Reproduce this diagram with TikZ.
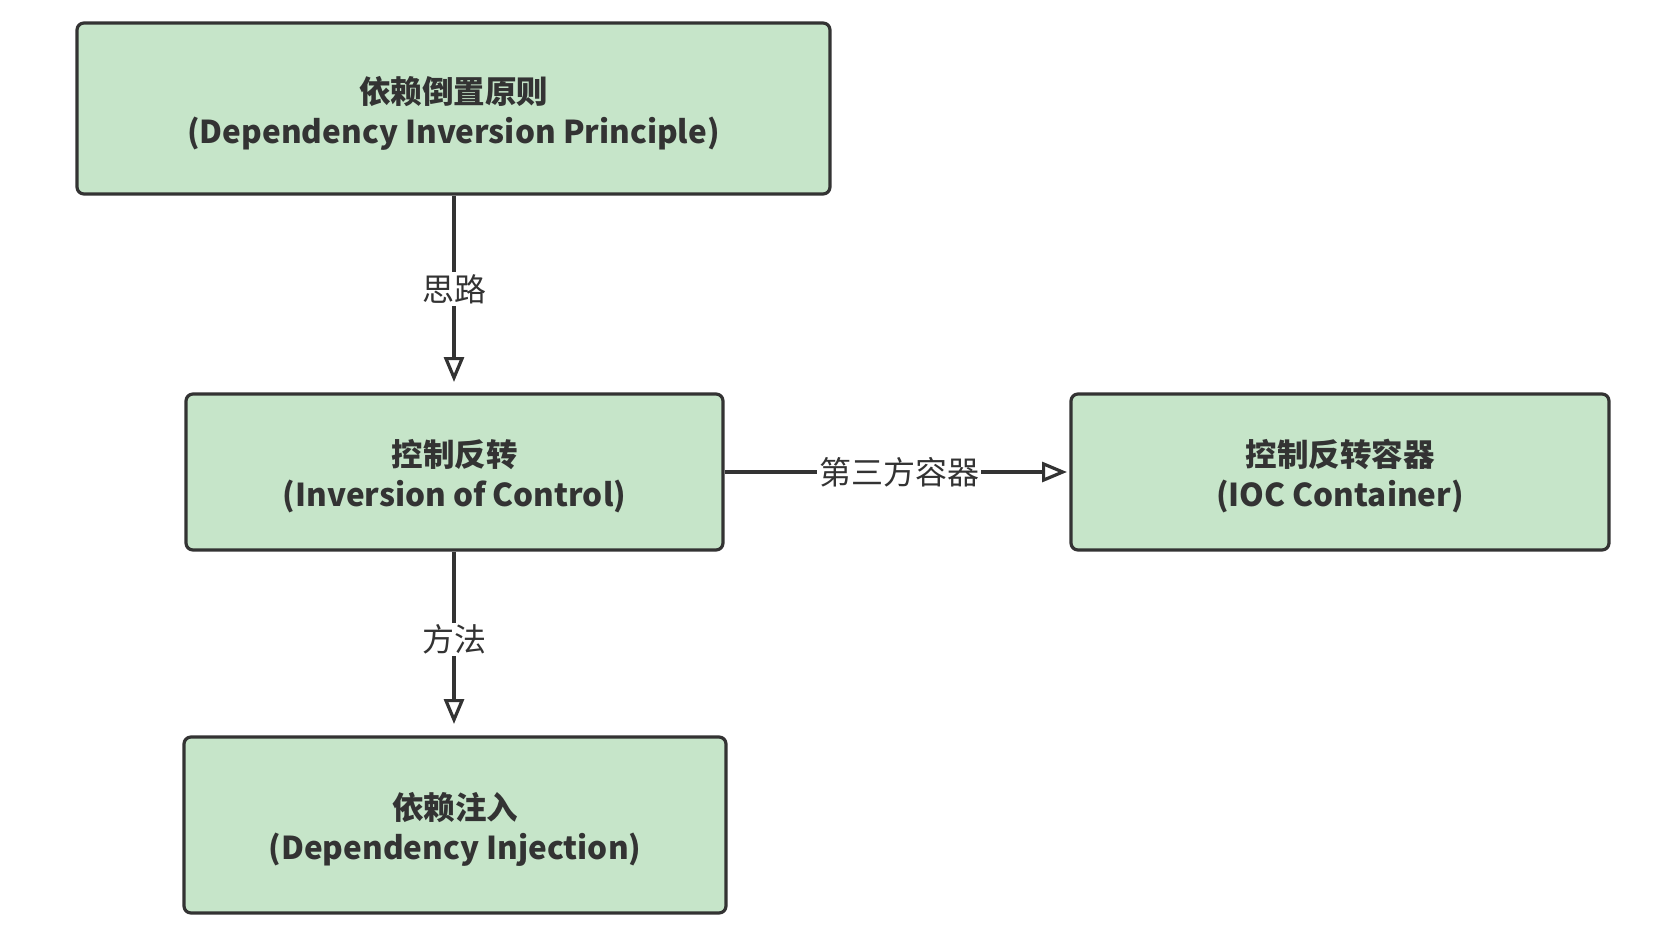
\documentclass[tikz,border=0pt]{standalone}
\usepackage{fontspec}
\setmainfont{Noto Sans CJK SC}
\usetikzlibrary{arrows.meta}
\definecolor{boxfill}{HTML}{C6E5C9}
\definecolor{edge}{HTML}{333333}
\newcommand{\lowr}[1]{\raisebox{-4.5pt}[\height][\depth]{#1}}
\tikzset{
  box/.style={draw=edge, fill=boxfill, line width=3.2pt, rounded corners=7pt, align=center,
    font=\fontsize{31.5}{40}\selectfont\bfseries, text=edge, inner sep=0pt},
  conn/.style={draw=edge, line width=3.2pt, -{Triangle[open, length=25pt, width=20pt, line width=3.2pt]}},
  lbl/.style={fill=white, font=\fontsize{32}{36}\selectfont, text=edge, inner sep=2pt}
}
\begin{document}
\begin{tikzpicture}[x=1pt, y=-1pt]
\useasboundingbox (0,0) rectangle (1655,937);
\node[box, minimum width=753pt, minimum height=171pt] (dip) at (453.5,108.5) {\lowr{依赖倒置原则}\\\lowr{(Dependency Inversion Principle)}};
\node[box, minimum width=537pt, minimum height=156pt] (ioc) at (454.5,472) {\lowr{控制反转}\\\lowr{(Inversion of Control)}};
\node[box, minimum width=538pt, minimum height=156pt] (cont) at (1340,472) {\lowr{控制反转容器}\\\lowr{(IOC Container)}};
\node[box, minimum width=542pt, minimum height=176pt] (di) at (455,825) {\lowr{依赖注入}\\\lowr{(Dependency Injection)}};
\coordinate (t1) at (454,382);
\coordinate (t2) at (454,724);
\coordinate (t3) at (1067,472);
\draw[conn] (dip.south -| t1) -- node[lbl, pos=0.5] (l1) {思路} (t1);
\draw[conn] (ioc.south -| t2) -- node[lbl, pos=0.51] (l2) {方法} (t2);
\draw[conn] (ioc.east) -- node[lbl, pos=0.51] (l3) {第三方容器} (t3);
\end{tikzpicture}
\end{document}
